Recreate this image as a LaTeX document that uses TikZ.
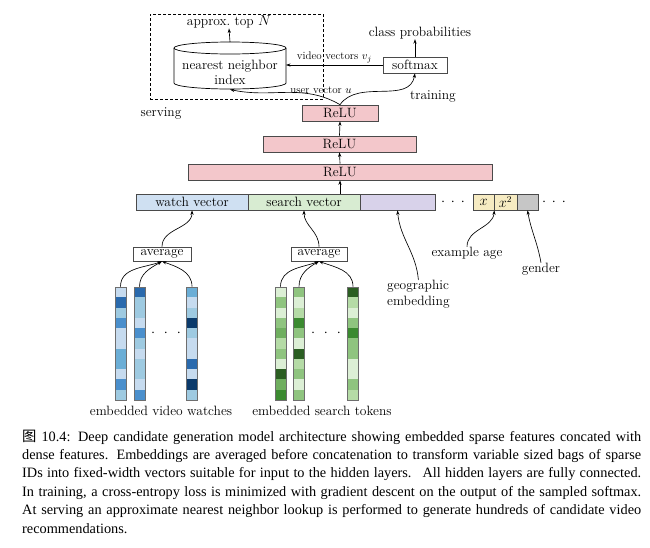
\documentclass[tikz,border=0pt]{standalone}
\usepackage{fontspec}
\newfontfamily\capfont{Liberation Serif}
\newfontfamily\cjkfont{Noto Sans CJK SC}
\usetikzlibrary{arrows.meta}
\definecolor{boxline}{HTML}{4A4A4A}
\definecolor{relufill}{HTML}{F3C7CB}
\definecolor{watchfill}{HTML}{CFE0F2}
\definecolor{searchfill}{HTML}{D8ECD2}
\definecolor{geofill}{HTML}{D8D2EA}
\definecolor{agefill}{HTML}{F6EBC2}
\definecolor{grayfill}{HTML}{C6C6C6}
\definecolor{B0}{HTML}{DEEBF7}
\definecolor{B1}{HTML}{C6DBEF}
\definecolor{B2}{HTML}{9ECAE1}
\definecolor{B3}{HTML}{6BAED6}
\definecolor{B4}{HTML}{4A8FCC}
\definecolor{B5}{HTML}{2A6AAD}
\definecolor{B6}{HTML}{0B3A6B}
\definecolor{G0}{HTML}{DCEFD5}
\definecolor{G1}{HTML}{B5DBA6}
\definecolor{G2}{HTML}{8FC47F}
\definecolor{G3}{HTML}{6FAE5F}
\definecolor{G4}{HTML}{3B8A30}
\definecolor{G5}{HTML}{2B5E22}
\newcommand\drawvec[3]{%
  \foreach \c [count=\i] in {#3}
    \fill[\c] ({#2-5.5},{287+(\i-1)*10.2727}) rectangle ++(11,10.2727);
  \node[vecbox] (#1) at (#2,343.5) {};}
\begin{document}
\begin{tikzpicture}[x=1pt,y=-1pt,
  box/.style={draw=boxline, line width=0.7pt, inner sep=0pt, minimum height=16pt,
    font=\fontsize{13.5}{16}\selectfont},
  relu/.style={box, fill=relufill},
  vecbox/.style={draw=boxline!80, line width=0.7pt, inner sep=0pt,
    minimum width=11pt, minimum height=113pt},
  arr/.style={-{Stealth[length=4.5pt,width=3.2pt]}, line width=0.65pt},
  lbl/.style={font=\fontsize{13.5}{16}\selectfont, inner sep=0pt},
  small/.style={font=\fontsize{11}{13}\selectfont, inner sep=0pt},
  dotsstyle/.style={font=\fontsize{15}{16}\selectfont, inner sep=0pt},
  caption/.style={font=\capfont\fontsize{14.3}{18.4}\selectfont, inner sep=0pt, align=left}
]
\useasboundingbox (0,0) rectangle (650,547);
\fill[white] (0,0) rectangle (650,547);

% serving box
\node[draw, dash pattern=on 3pt off 2pt, line width=0.6pt,
  minimum width=173pt, minimum height=85pt, inner sep=0pt] (servebox) at (236.5,56.5) {};

% cylinder
\draw[line width=0.7pt, fill=white] (174,48) -- (174,83)
  arc[start angle=180, end angle=360, x radius=56pt, y radius=6pt] -- (286,48);
\draw[line width=0.7pt] (230,48) ellipse [x radius=56pt, y radius=6pt];
\coordinate (cyltop) at (230,42);
\coordinate (cylbot) at (230,89.5);
\coordinate (cylright) at (286,65);
\node[lbl] (nn) at (230,66) {nearest neighbor};
\node[lbl] (idx) at (230,80) {index};
\node[lbl] (approx) at (229,22) {approx.\ top $N$};
\draw[arr] (cyltop) -- (approx.south);

% softmax
\node[box, fill=white, minimum width=64pt] (softmax) at (415,65) {softmax};
\node[lbl] (classp) at (420,33) {class probabilities};
\draw[arr] (softmax.north) -- (softmax.north |- classp.south);
\draw[arr] (softmax.west) -- (cylright)
  node[midway, above=1.5pt, small] {video vectors $v_j$};

% ReLU stack
\node[relu, minimum width=76pt] (relu1) at (340,113) {ReLU};
\node[relu, minimum width=153pt] (relu2) at (339.5,144) {ReLU};
\node[relu, minimum width=304pt] (relu3) at (340,172) {ReLU};
\draw[arr] (relu2.north) -- (relu1.south);
\draw[arr] (relu3.north) -- (relu2.south);
\draw[arr] (relu1.north) to[out=150, in=-12] (cylbot);
\draw[arr] (relu1.north) to[out=55, in=-100] (softmax.south);
\node[small] (uvec) at (321,90) {user vector $u$};
\node[lbl] (serving) at (161,113) {serving};
\node[lbl] (training) at (433,96) {training};

% feature bar
\node[box, fill=watchfill, minimum width=112pt] (watch) at (192,202) {watch vector};
\node[box, fill=searchfill, minimum width=112pt] (search) at (304,202) {search vector};
\node[box, fill=geofill, minimum width=75pt] (geo) at (397.5,202) {};
\draw[arr] (relu3.south |- search.north) -- (relu3.south);
\node[dotsstyle] (dotsA) at (453,202.5) {\makebox[10pt]{$\cdot$}\makebox[10pt]{$\cdot$}\makebox[10pt]{$\cdot$}};
\node[box, fill=agefill, minimum width=21pt] (xb) at (483.5,202) {$x$};
\node[box, fill=agefill, minimum width=23pt] (xsq) at (505.5,202) {$x^2$};
\node[box, fill=grayfill, minimum width=21pt] (grayb) at (527.5,202) {};
\node[dotsstyle] (dotsB) at (554,202.5) {\makebox[10pt]{$\cdot$}\makebox[10pt]{$\cdot$}\makebox[10pt]{$\cdot$}};

\node[lbl, align=left, anchor=north west] (geotext) at (387,280) {geographic\\embedding};
\draw[arr] (geotext.north) to[out=95, in=-85] (geo.south);
\node[lbl] (agetext) at (467,253) {example age};
\draw[arr] (agetext.north) to[out=90, in=-95] (xb.south east);
\node[lbl] (gentext) at (541,269) {gender};
\draw[arr] (gentext.north) to[out=100, in=-80] (grayb.south);

% averages
\node[box, fill=white, minimum width=58pt, minimum height=14pt] (avg1) at (162,254) {average};
\node[box, fill=white, minimum width=56pt, minimum height=14pt] (avg2) at (319,254) {average};
\draw[arr] (avg1.north) to[out=90, in=-90] (watch.south);
\draw[arr] (avg2.north) to[out=90, in=-90] (search.south);

% embedded vectors
\drawvec{v1}{120.5}{B1,B5,B2,B4,B1,B1,B3,B3,B1,B4,B2}
\drawvec{v2}{139.5}{B5,B2,B2,B1,B4,B2,B1,B2,B2,B1,B4}
\drawvec{v3}{192}{B3,B1,B2,B6,B2,B1,B1,B5,B1,B6,B2}
\drawvec{s1}{280.5}{G0,G2,G0,G2,G3,G1,G2,G0,G5,G3,G4}
\drawvec{s2}{299}{G2,G0,G1,G4,G2,G0,G5,G1,G2,G0,G2}
\drawvec{s3}{353}{G5,G1,G0,G2,G4,G2,G2,G0,G0,G2,G1}
\node[dotsstyle] (dotsV) at (166,333) {\makebox[13pt]{$\cdot$}\makebox[13pt]{$\cdot$}\makebox[13pt]{$\cdot$}};
\node[dotsstyle] (dotsS) at (326,333) {\makebox[13pt]{$\cdot$}\makebox[13pt]{$\cdot$}\makebox[13pt]{$\cdot$}};

\draw[arr] (v1.north) to[out=90, in=-160] (avg1.south);
\draw[arr] (v2.north) to[out=90, in=-150] (avg1.south);
\draw[arr] (v3.north) to[out=90, in=-20] (avg1.south);
\draw[arr] (s1.north) to[out=90, in=-160] (avg2.south);
\draw[arr] (s2.north) to[out=90, in=-150] (avg2.south);
\draw[arr] (s3.north) to[out=90, in=-20] (avg2.south);

\node[lbl] (lblv) at (161,411) {embedded video watches};
\node[lbl] (lbls) at (322,411) {embedded search tokens};

% caption
\node[caption, anchor=base west] (cap) at (22,533) {%
\makebox[619pt][s]{{\cjkfont 图} 10.4: Deep candidate generation model architecture showing embedded sparse features concated with}\\
\makebox[619pt][s]{dense features. Embeddings are averaged before concatenation to transform variable sized bags of sparse}\\
\makebox[619pt][s]{IDs into fixed-width vectors suitable for input to the hidden layers. \ All hidden layers are fully connected.}\\
\makebox[619pt][s]{In training, a cross-entropy loss is minimized with gradient descent on the output of the sampled softmax.}\\
\makebox[619pt][s]{At serving an approximate nearest neighbor lookup is performed to generate hundreds of candidate video}\\
recommendations.};
\end{tikzpicture}
\end{document}
